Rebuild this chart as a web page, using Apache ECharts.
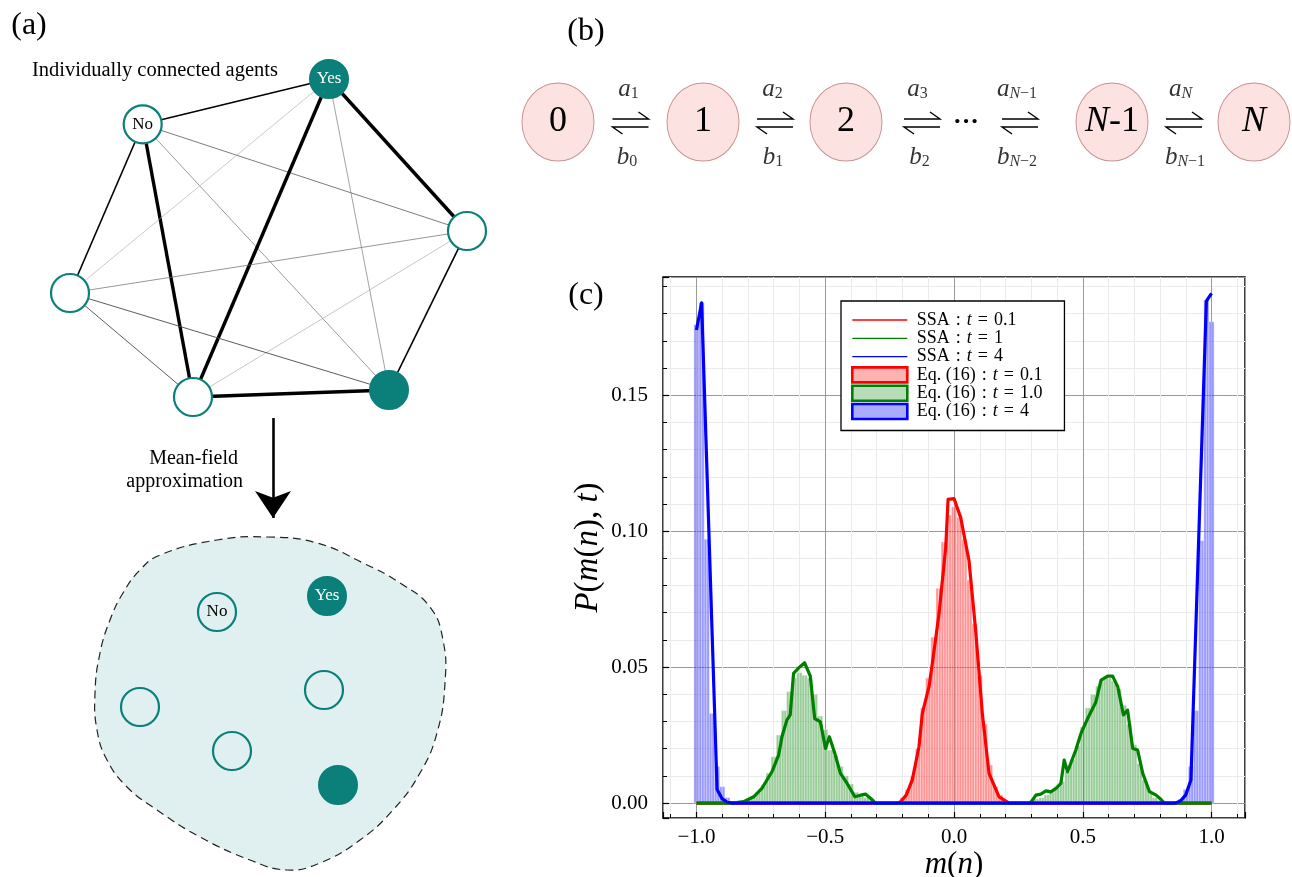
<!DOCTYPE html>
<html>
<head>
<meta charset="utf-8">
<script src="https://cdn.jsdelivr.net/npm/echarts@6/dist/echarts.min.js"></script>
<style>
  html, body { margin: 0; padding: 0; background: #fff; }
  #chart { width: 1292px; height: 877px; }
</style>
</head>
<body>
<div id="chart"></div>
<script>
const SERIF = '"Liberation Serif", "DejaVu Serif", serif';
const TEAL = '#0b7f79';

// ---------- (a) agent network ----------
const agentNames = ['No', 'Yes', '', '', '', ''];
const agentXY = [[142.7, 124.3], [329, 79], [467, 231], [70, 293], [193, 397], [389, 390]];
const agentYes = [false, true, false, false, false, true];
const linkPairs = [[0, 1], [0, 3], [0, 4], [0, 2], [0, 5], [1, 4], [1, 2], [1, 3], [1, 5], [2, 5], [2, 3], [2, 4], [3, 4], [3, 5], [4, 5]];
const linkWeight = [1.4, 1.6, 3.4, 0.8, 0.7, 3.4, 3.4, 0.6, 0.7, 1.7, 0.7, 0.6, 0.9, 0.9, 3.4];
const linkShade = ['#000', '#000', '#000', '#5a5a5a', '#707070', '#000', '#000', '#a8a8a8', '#7a7a7a', '#000', '#6a6a6a', '#a0a0a0', '#4a4a4a', '#4a4a4a', '#000'];

// mean-field pool of the same agents
const poolNames = ['No', 'Yes', '', '', '', ''];
const poolXY = [[217, 612], [327, 596], [324, 690], [140, 707], [232, 751], [338, 785]];
const poolYes = [false, true, false, false, false, true];
const poolOutline = [[267, 537], [317, 543], [363, 563], [400, 583], [430, 607], [443, 640], [445, 683], [437, 733], [420, 773], [393, 810], [360, 840], [320, 863], [287, 870], [250, 860], [200, 837], [157, 810], [127, 787], [107, 760], [97, 730], [95, 693], [100, 653], [110, 620], [123, 593], [140, 570], [160, 555], [217, 540]];
const arrowPath = [[273, 418], [273, 518]];

// ---------- (b) birth-death chain ----------
const stateLabels = ['0', '1', '2', '{i|N}-1', '{i|N}'];
const stateXY = [[558, 122], [703, 122], [846, 122], [1112, 122], [1254, 122]];
const harpoonXY = [[630.5, 123], [775, 123], [922, 123], [1020, 123], [1184, 123]];
const upperRates = [['1', ''], ['2', ''], ['3', ''], ['', '\u22121'], ['', '']];
const lowerRates = [['0', ''], ['1', ''], ['2', ''], ['', '\u22122'], ['', '\u22121']];
const upperRateXY = [[628.5, 89], [772.5, 89], [917.5, 89], [1017, 89], [1180.5, 89]];
const lowerRateXY = [[627, 157], [773, 157], [919.5, 157], [1017, 157], [1185, 157]];

// ---------- (c) distributions ----------
const binWidth = 0.02;
// SSA histograms: first bin centre + bin heights
const ssaRedStart = -0.22;
const ssaRed = [0.0005, 0.002, 0.005, 0.010, 0.020, 0.035, 0.046, 0.061, 0.079, 0.096, 0.106, 0.109, 0.105, 0.097, 0.082, 0.066, 0.047, 0.029, 0.014, 0.006, 0.003, 0.001, 0.0003];
const ssaGreenLeftStart = -0.86;
const ssaGreenLeft = [0.0003, 0.0005, 0.001, 0.0015, 0.0025, 0.004, 0.0065, 0.011, 0.017, 0.025, 0.034, 0.041, 0.046, 0.048, 0.047, 0.046, 0.040, 0.032, 0.027, 0.0195, 0.0175, 0.0135, 0.010, 0.007, 0.004, 0.003, 0.002, 0.001, 0.0005];
const ssaGreenRightStart = 0.28;
const ssaGreenRight = [0.0003, 0.0008, 0.0015, 0.002, 0.003, 0.004, 0.006, 0.008, 0.0115, 0.016, 0.021, 0.028, 0.035, 0.040, 0.043, 0.0455, 0.046, 0.045, 0.042, 0.036, 0.029, 0.0215, 0.0145, 0.0085, 0.0045, 0.002, 0.001, 0.0004];
const ssaBlueLeftStart = -1.0;
const ssaBlueLeft = [0.176, 0.184, 0.097, 0.033, 0.0135, 0.006, 0.002, 0.0005];
const ssaBlueRightStart = 0.86;
const ssaBlueRight = [0.0005, 0.0015, 0.005, 0.0135, 0.034, 0.0965, 0.185, 0.177];

// Eq. (16) curves: m(n) and P(m(n), t)
const eqRedM = [-1, -0.22, -0.207, -0.185, -0.162, -0.136, -0.123, -0.097, -0.084, -0.058, -0.032, -0.023, 0.0, 0.026, 0.058, 0.084, 0.110, 0.136, 0.175, 0.214, 1];
const eqRedP = [0, 0, 0.0005, 0.003, 0.0085, 0.0207, 0.033, 0.0428, 0.0514, 0.0697, 0.0942, 0.1117, 0.112, 0.105, 0.0893, 0.0636, 0.033, 0.0109, 0.0023, 0, 0];
const eqGreenM = [-1, -0.86, -0.817, -0.778, -0.746, -0.707, -0.681, -0.668, -0.649, -0.636, -0.623, -0.60, -0.58, -0.558, -0.541, -0.519, -0.499, -0.484, -0.463, -0.441, -0.415, -0.385, -0.363, -0.344, -0.320, -0.305, 0.29, 0.298, 0.318, 0.337, 0.357, 0.376, 0.396, 0.415, 0.428, 0.441, 0.473, 0.493, 0.519, 0.551, 0.571, 0.597, 0.616, 0.636, 0.658, 0.674, 0.694, 0.713, 0.733, 0.759, 0.785, 0.804, 0.817, 1];
const eqGreenP = [0, 0, 0.0005, 0.0023, 0.0054, 0.0115, 0.0176, 0.0244, 0.0305, 0.0324, 0.0477, 0.050, 0.0516, 0.0467, 0.0311, 0.0299, 0.0201, 0.0244, 0.0183, 0.0109, 0.0072, 0.0023, 0.0029, 0.0033, 0.0014, 0, 0, 0.0002, 0.0029, 0.0033, 0.0045, 0.0041, 0.0054, 0.0072, 0.0158, 0.0115, 0.0195, 0.0256, 0.0311, 0.0372, 0.0452, 0.0467, 0.0467, 0.0428, 0.0324, 0.0342, 0.0201, 0.0195, 0.0109, 0.0042, 0.0029, 0.0013, 0, 0];
const eqBlueM = [-1.0, -0.98, -0.92, -0.90, -0.88, -0.86, 0.86, 0.88, 0.90, 0.92, 0.98, 1.0];
const eqBlueP = [0.174, 0.184, 0.005, 0.0015, 0.0003, 0, 0, 0.0008, 0.003, 0.0085, 0.1846, 0.1875];

const xTickRange = [-1.13, 1.13];
const yTickRange = [-0.0055, 0.1935];

const seriesNames = {
  ssa: ['SSA : t = 0.1', 'SSA : t = 1', 'SSA : t = 4'],
  eq: ['Eq. (16) : t = 0.1', 'Eq. (16) : t = 1.0', 'Eq. (16) : t = 4']
};
const colours = ['#ff0000', '#008000', '#0000ff'];
const binFill = ['rgba(255,0,0,0.42)', 'rgba(0,128,0,0.40)', 'rgba(0,0,255,0.40)'];
const legendFill = ['rgba(255,0,0,0.30)', 'rgba(0,128,0,0.28)', 'rgba(0,0,255,0.33)'];

// ---------- helpers ----------
function bins(start, values) {
  return values.map((v, i) => [Math.round((start + i * binWidth) * 1000) / 1000, v]);
}
function zip(ms, ps) { return ms.map((m, i) => [m, ps[i]]); }

function renderBin(fill) {
  return function (params, api) {
    const m = api.value(0), p = api.value(1);
    const tl = api.coord([m - binWidth / 2, p]);
    const mid = api.coord([m, 0]);
    const br = api.coord([m + binWidth / 2, 0]);
    const h = mid[1] - tl[1];
    const st = { fill: fill, stroke: 'rgba(255,255,255,0.55)', lineWidth: 0.6 };
    return {
      type: 'group',
      children: [
        { type: 'rect', shape: { x: tl[0], y: tl[1], width: mid[0] - tl[0], height: h }, style: st },
        { type: 'rect', shape: { x: mid[0], y: tl[1], width: br[0] - mid[0], height: h }, style: st }
      ]
    };
  };
}
function histSeries(k, data) {
  return {
    type: 'custom', name: seriesNames.ssa[k],
    xAxisIndex: 0, yAxisIndex: 0,
    data: data, encode: { x: 0, y: 1 },
    itemStyle: { color: colours[k] },
    renderItem: renderBin(binFill[k]),
    clip: true, z: 2, silent: true
  };
}
function curveSeries(k, ms, ps) {
  return {
    type: 'line', name: seriesNames.eq[k],
    xAxisIndex: 0, yAxisIndex: 0,
    data: zip(ms, ps), showSymbol: false, symbol: 'none',
    lineStyle: { color: colours[k], width: 3.2, join: 'round' },
    itemStyle: { color: colours[k] },
    z: 3, silent: true
  };
}

// network graph
const agentNodes = agentXY.map((xy, i) => ({
  name: 'agent' + i, value: xy,
  symbolSize: 38,
  itemStyle: agentYes[i] ? { color: TEAL, borderColor: TEAL, borderWidth: 2, opacity: 1 } : { color: '#fff', borderColor: TEAL, borderWidth: 2.2, opacity: 1 },
  label: { show: agentNames[i] !== '', formatter: agentNames[i], color: agentYes[i] ? '#fff' : '#000', fontFamily: SERIF, fontSize: 17 }
}));
const agentLinks = linkPairs.map((pr, i) => ({
  source: 'agent' + pr[0], target: 'agent' + pr[1],
  lineStyle: { width: linkWeight[i], color: linkShade[i], opacity: 1, curveness: 0 }
}));

const poolData = poolXY.map((xy, i) => ({
  value: xy,
  itemStyle: poolYes[i] ? { color: TEAL, borderColor: TEAL, borderWidth: 2, opacity: 1 } : { color: 'rgba(0,0,0,0)', borderColor: TEAL, borderWidth: 2.2, opacity: 1 },
  label: { show: poolNames[i] !== '', formatter: poolNames[i], color: poolYes[i] ? '#fff' : '#000', fontFamily: SERIF, fontSize: 17 }
}));

function rateLabel(letter, parts) {
  // parts: [plain subscript, subscript after an italic N]
  if (parts[0] !== '') return '{v|' + letter + '}{s|' + parts[0] + '}';
  return '{v|' + letter + '}{sI|N}{s|' + parts[1] + '}';
}
const rateRich = {
  v: { fontFamily: SERIF, fontStyle: 'italic', fontSize: 25, lineHeight: 26, verticalAlign: 'middle', color: '#000' },
  s: { fontFamily: SERIF, fontSize: 16, lineHeight: 16, verticalAlign: 'bottom', color: '#000' },
  sI: { fontFamily: SERIF, fontStyle: 'italic', fontSize: 16, lineHeight: 16, verticalAlign: 'bottom', color: '#000' }
};
const rateData = upperRateXY.map((xy, i) => ({ value: xy, label: { formatter: rateLabel('a', upperRates[i]) } }))
  .concat(lowerRateXY.map((xy, i) => ({ value: xy, label: { formatter: rateLabel('b', lowerRates[i]) } })));

// legend entry: upright text with an italic t, math-style spacing round ':' and '='
function legendText(name) {
  const k = name.indexOf('t =');
  const head = name.slice(0, k).replace(' : ', '\u2004:\u2004');
  const tail = name.slice(k + 1).replace(' = ', '\u2004=\u2004');
  return '{r| }{r|' + head + '}{i|t}{r|' + tail + '}';
}
const nameRich = size => ({
  i: { fontFamily: SERIF, fontStyle: 'italic', fontSize: size, color: '#000' },
  r: { fontFamily: SERIF, fontSize: size, color: '#000' }
});

const frameTick = { show: true, inside: true, length: 6, lineStyle: { color: '#000', width: 1.2 } };
const frameMinorTick = { show: true, splitNumber: 5, length: 4, lineStyle: { color: '#000', width: 1 } };

const option = {
  animation: false,
  backgroundColor: '#fff',
  grid: [
    { left: 663, top: 277, width: 582, height: 541, show: true, borderColor: '#000', borderWidth: 1.5, backgroundColor: 'transparent', containLabel: false, outerBoundsMode: 'none' },
    { left: 0, top: 0, width: 1292, height: 877, show: false, containLabel: false, outerBoundsMode: 'none' }
  ],
  xAxis: [
    {
      type: 'value', gridIndex: 0, position: 'bottom', min: xTickRange[0], max: xTickRange[1], splitNumber: 4,
      axisLine: { show: false, onZero: false },
      axisTick: frameTick, minorTick: frameMinorTick,
      splitLine: { show: true, lineStyle: { color: '#9a9a9a', width: 1 } },
      minorSplitLine: { show: true, lineStyle: { color: '#ebebeb', width: 1 } },
      axisLabel: {
        showMinLabel: false, showMaxLabel: false, margin: 9,
        fontFamily: SERIF, fontSize: 21, color: '#000',
        formatter: v => (Math.abs(v) < 1e-9 ? '0.0' : (v < 0 ? '\u2212' : '') + Math.abs(v).toFixed(1))
      },
      name: '{i|m}{r|(}{i|n}{r|)}', nameLocation: 'middle', nameGap: 31, nameMoveOverlap: false,
      nameTextStyle: { color: '#000', rich: nameRich(31) }
    },
    { type: 'value', gridIndex: 1, min: 0, max: 1292, show: false }
  ],
  yAxis: [
    {
      type: 'value', gridIndex: 0, position: 'left', min: yTickRange[0], max: yTickRange[1], splitNumber: 4,
      axisLine: { show: false, onZero: false },
      axisTick: frameTick, minorTick: frameMinorTick,
      splitLine: { show: true, lineStyle: { color: '#9a9a9a', width: 1 } },
      minorSplitLine: { show: true, lineStyle: { color: '#ebebeb', width: 1 } },
      axisLabel: {
        showMinLabel: false, showMaxLabel: false, margin: 15,
        fontFamily: SERIF, fontSize: 21, color: '#000',
        formatter: v => v.toFixed(2)
      },
      name: '{i|P}{r|(}{i|m}{r|(}{i|n}{r|), }{i|t}{r|)}', nameLocation: 'middle', nameGap: 58, nameRotate: 90, nameMoveOverlap: false,
      nameTextStyle: { color: '#000', rich: nameRich(33) }
    },
    { type: 'value', gridIndex: 1, min: 0, max: 877, inverse: true, show: false }
  ],
  legend: {
    orient: 'vertical', left: 841, top: 301,
    padding: [10, 22, 10, 10],
    itemWidth: 55, itemHeight: 15, itemGap: 0.3,
    backgroundColor: '#fff', borderColor: '#000', borderWidth: 1.3, borderRadius: 0,
    selectedMode: false,
    textStyle: {
      color: '#000', fontFamily: SERIF, fontSize: 18,
      rich: {
        r: { fontFamily: SERIF, fontSize: 18, lineHeight: 18, color: '#000' },
        i: { fontFamily: SERIF, fontStyle: 'italic', fontSize: 18, lineHeight: 18, color: '#000' }
      }
    },
    formatter: legendText,
    data: [0, 1, 2].map(k => ({ name: seriesNames.ssa[k], icon: 'path://M0,0H60V1.4H0Z', itemStyle: { color: colours[k], borderWidth: 0 } }))
      .concat([0, 1, 2].map(k => ({ name: seriesNames.eq[k], icon: 'rect', itemStyle: { color: legendFill[k], borderColor: colours[k], borderWidth: 2.6 } })))
  },
  graphic: [
    { type: 'text', x: 29, y: 26, style: { text: '(a)', font: '32px ' + SERIF, fill: '#000', align: 'center', verticalAlign: 'middle' } },
    { type: 'text', x: 586, y: 32, style: { text: '(b)', font: '32px ' + SERIF, fill: '#000', align: 'center', verticalAlign: 'middle' } },
    { type: 'text', x: 586, y: 296, style: { text: '(c)', font: '32px ' + SERIF, fill: '#000', align: 'center', verticalAlign: 'middle' } },
    { type: 'text', x: 32, y: 71, style: { text: 'Individually connected agents', font: '20.5px ' + SERIF, fill: '#000', align: 'left', verticalAlign: 'middle' } },
    { type: 'text', x: 238, y: 459, style: { text: 'Mean-field', font: '20px ' + SERIF, fill: '#000', align: 'right', verticalAlign: 'middle' } },
    { type: 'text', x: 243, y: 482, style: { text: 'approximation', font: '20px ' + SERIF, fill: '#000', align: 'right', verticalAlign: 'middle' } },
    { type: 'text', x: 966, y: 122, style: { text: '\u00b7\u00b7\u00b7', font: 'bold 26px ' + SERIF, fill: '#000', align: 'center', verticalAlign: 'middle' } }
  ],
  series: [
    // (a) pool region
    {
      type: 'custom', coordinateSystem: 'cartesian2d', xAxisIndex: 1, yAxisIndex: 1,
      data: [[0, 0]], silent: true, clip: false, z: 1,
      renderItem: function (params, api) {
        const pts = poolOutline.map(p => api.coord(p));
        return { type: 'polygon', shape: { points: pts, smooth: 0.45 }, style: { fill: '#e0f0f0', stroke: '#222', lineWidth: 1.2, lineDash: [8, 5] } };
      }
    },
    // (a) arrow
    {
      type: 'lines', coordinateSystem: 'cartesian2d', xAxisIndex: 1, yAxisIndex: 1,
      data: [{ coords: arrowPath }], symbol: ['none', 'arrow'], symbolSize: [15, 27],
      lineStyle: { color: '#000', width: 2.6, opacity: 1 }, silent: true, z: 2
    },
    // (a) network
    {
      type: 'graph', coordinateSystem: 'cartesian2d', xAxisIndex: 1, yAxisIndex: 1,
      symbol: 'circle', data: agentNodes, links: agentLinks,
      label: { position: 'inside' }, silent: true, z: 3,
      emphasis: { disabled: true }
    },
    // (a) pooled agents
    {
      type: 'scatter', xAxisIndex: 1, yAxisIndex: 1, symbol: 'circle', symbolSize: 38,
      data: poolData, label: { position: 'inside' }, itemStyle: { opacity: 1 }, silent: true, z: 3
    },
    // (b) states
    {
      type: 'scatter', xAxisIndex: 1, yAxisIndex: 1, symbol: 'circle', symbolSize: [72, 78],
      data: stateXY.map((xy, i) => ({ value: xy, label: { formatter: stateLabels[i] } })),
      itemStyle: { color: '#fde2e2', borderColor: '#c99090', borderWidth: 1, opacity: 1 },
      label: {
        show: true, position: 'inside', color: '#000', fontFamily: SERIF, fontSize: 36,
        rich: { i: { fontFamily: SERIF, fontStyle: 'italic', fontSize: 36, color: '#000' } }
      },
      silent: true, z: 3
    },
    // (b) reversible transitions
    {
      type: 'custom', coordinateSystem: 'cartesian2d', xAxisIndex: 1, yAxisIndex: 1,
      data: harpoonXY, silent: true, z: 3,
      renderItem: function (params, api) {
        const c = api.coord([api.value(0), api.value(1)]);
        const x = c[0], y = c[1];
        const st = { stroke: '#000', lineWidth: 1.4, fill: null };
        return {
          type: 'group', children: [
            { type: 'polyline', shape: { points: [[x - 18, y - 4], [x + 18, y - 4], [x + 8, y - 11]] }, style: st },
            { type: 'polyline', shape: { points: [[x + 18, y + 4], [x - 18, y + 4], [x - 8, y + 11]] }, style: st }
          ]
        };
      }
    },
    // (b) rate labels
    {
      type: 'scatter', xAxisIndex: 1, yAxisIndex: 1, symbolSize: 0,
      data: rateData,
      label: { show: true, position: 'inside', color: '#000', rich: rateRich },
      silent: true, z: 3
    },
    // (c) SSA histograms
    histSeries(0, bins(ssaRedStart, ssaRed)),
    histSeries(1, bins(ssaGreenLeftStart, ssaGreenLeft).concat(bins(ssaGreenRightStart, ssaGreenRight))),
    histSeries(2, bins(ssaBlueLeftStart, ssaBlueLeft).concat(bins(ssaBlueRightStart, ssaBlueRight))),
    // (c) Eq. (16)
    curveSeries(0, eqRedM, eqRedP),
    curveSeries(1, eqGreenM, eqGreenP),
    curveSeries(2, eqBlueM, eqBlueP)
  ]
};

const chart = echarts.init(document.getElementById('chart'), null, { renderer: 'canvas', width: 1292, height: 877 });
chart.setOption(option);
</script>
</body>
</html>
